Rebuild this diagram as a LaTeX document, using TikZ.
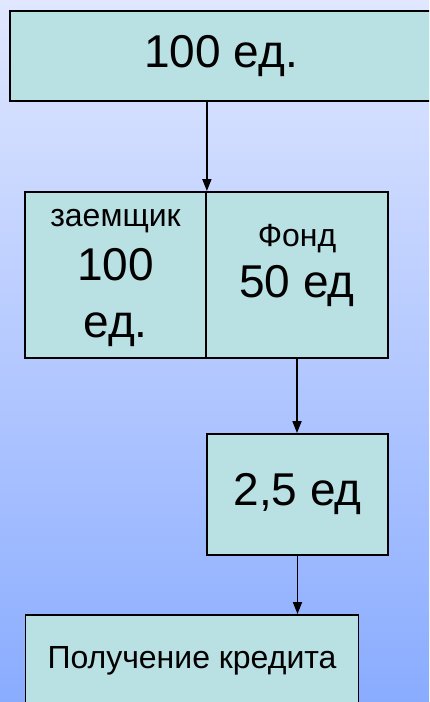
\documentclass[tikz,border=0pt]{standalone}
\usepackage{fontspec}
\setmainfont{Liberation Sans}
\usetikzlibrary{arrows.meta}
\definecolor{bgtop}{RGB}{224,231,255}
\definecolor{bgbot}{RGB}{138,172,255}
\definecolor{boxfill}{RGB}{185,224,227}
\begin{document}
\begin{tikzpicture}[x=1pt,y=-1pt,
  box/.style={draw=black, line width=1.8pt, fill=boxfill, inner sep=0pt, align=center},
  arr/.style={line width=1.7pt, -{Triangle[length=12pt,width=9pt]}},
  big/.style={font=\fontsize{46}{55}\selectfont}]
\useasboundingbox (0,0) rectangle (429,702);
\clip (0,0) rectangle (429,702);
\shade[top color=bgtop, bottom color=bgbot] (0,0) rectangle (429,702);
\node[box, big, minimum width=422pt, minimum height=90pt] (top) at (221,56) {100 ед.};
\node[box, big, minimum width=181pt, minimum height=166pt, text depth=4pt] (loan) at (115.5,275)
  {{\fontsize{32}{38}\selectfont заемщик}\\[-1pt]100\\[2pt]ед.};
\node[box, big, minimum width=182pt, minimum height=166pt, text depth=28pt] (fund) at (297,275)
  {{\fontsize{32}{38}\selectfont Фонд}\\[-4pt]50 ед};
\node[box, big, minimum width=181pt, minimum height=121pt] (part) at (297.5,494.5) {2,5 ед};
\node[box, font=\fontsize{32}{38}\selectfont, minimum width=333pt, minimum height=92pt] (credit) at (192,661) {Получение кредита};
\draw[arr] (loan.north east |- top.south) -- (loan.north east);
\draw[arr] (fund.south) -- (fund.south |- part.north);
\draw[arr] (part.south) -- (part.south |- credit.north);
\end{tikzpicture}
\end{document}
